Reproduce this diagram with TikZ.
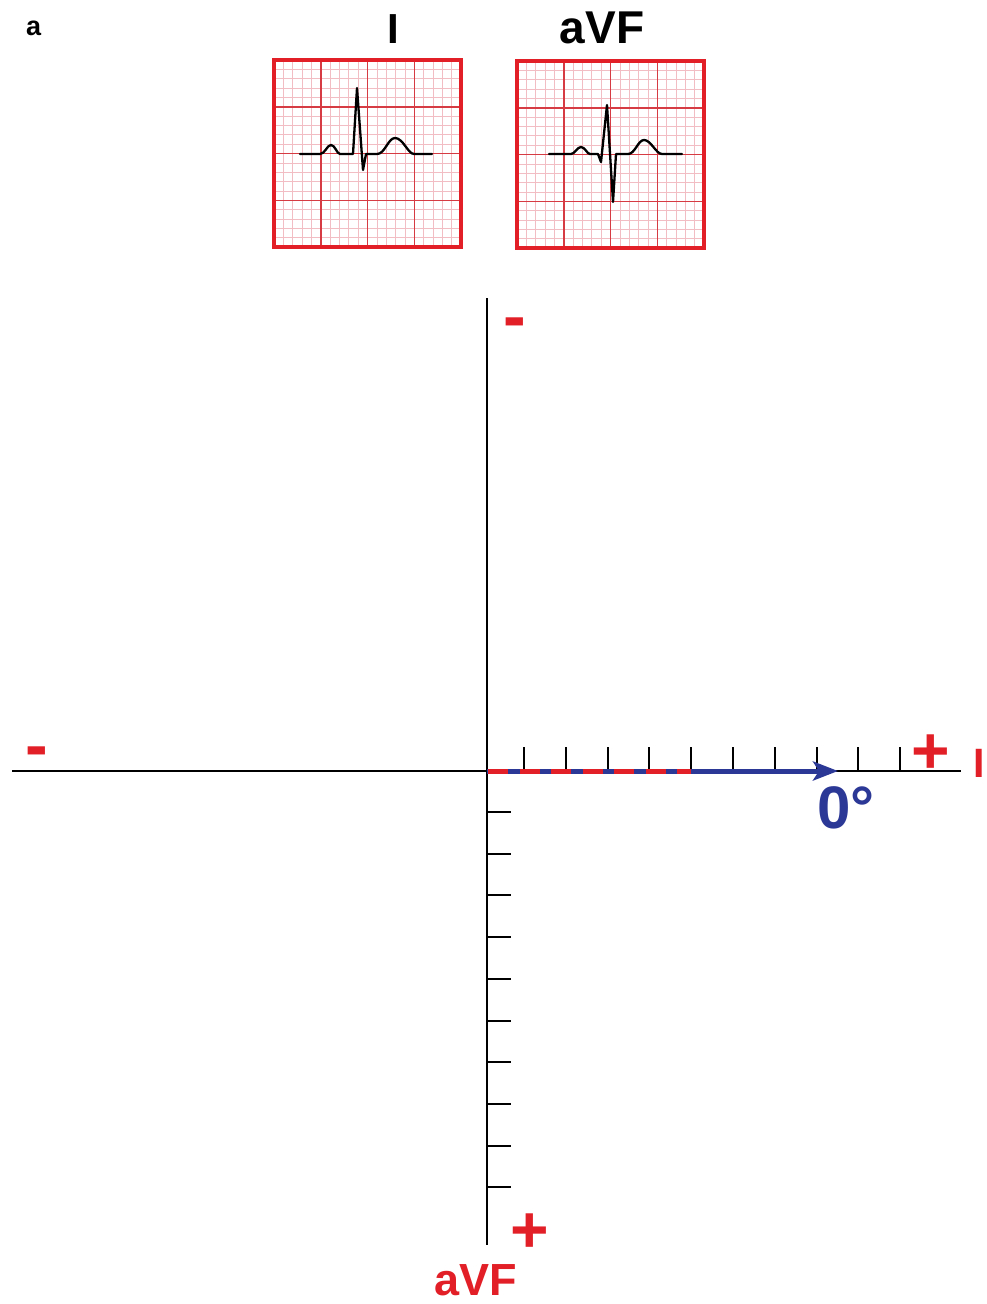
\documentclass[tikz,border=0pt]{standalone}
\usepackage{fontspec}
\setmainfont{Liberation Sans}
\usetikzlibrary{arrows.meta,calc}
\definecolor{ecgred}{RGB}{226,30,38}
\definecolor{vecblue}{RGB}{44,56,150}
\definecolor{minorpink}{RGB}{242,190,196}
\definecolor{majorred}{RGB}{214,58,66}
\tikzset{
  lbl/.style={inner sep=0pt, anchor=base, font=\bfseries},
  axisline/.style={line width=2.2pt, black},
  tick/.style={line width=2pt, black},
  trace/.style={line width=2.3pt, black, line join=round, line cap=round},
}
\newcommand{\ecgbox}[2]{% #1 = left x, #2 = top y
  \foreach \k in {1,...,19}{
    \draw[minorpink, line width=0.7pt] ({#1+\k*9.35},{#2}) -- ({#1+\k*9.35},{#2+187});
    \draw[minorpink, line width=0.7pt] ({#1},{#2+\k*9.35}) -- ({#1+187},{#2+\k*9.35});
  }
  \foreach \k in {1,2,3}{
    \draw[majorred, line width=1.5pt] ({#1+\k*46.75},{#2}) -- ({#1+\k*46.75},{#2+187});
    \draw[majorred, line width=1.5pt] ({#1},{#2+\k*46.75}) -- ({#1+187},{#2+\k*46.75});
  }
  \draw[ecgred, line width=4pt] (#1,#2) rectangle ({#1+187},{#2+187});
}
\begin{document}
\begin{tikzpicture}[x=1pt,y=-1pt]
\useasboundingbox (0,0) rectangle (987,1304);
\fill[white] (0,0) rectangle (987,1304);

% panel label
\node[lbl, anchor=base west, font=\bfseries\fontsize{27}{27}\selectfont] (panel) at (26,35) {a};

% ECG strips
\ecgbox{274}{60}
\ecgbox{517}{61}
\node[lbl, font=\bfseries\fontsize{42}{42}\selectfont] (titleI) at (393,43) {I};
\node[lbl, font=\bfseries\fontsize{46}{46}\selectfont] (titleaVF) at (602,43) {aVF};

\draw[trace] (300,154) -- (320,154) .. controls (325,154) and (327,145) .. (331,145)
  .. controls (335,145) and (337,154) .. (340,154) -- (353,154) -- (357,88) -- (363,170)
  -- (366,154) -- (377,154) .. controls (385,154) and (388,138) .. (395,138)
  .. controls (403,138) and (408,154) .. (414,154) -- (432,154);
\draw[trace] (549,154) -- (571,154) .. controls (575,154) and (577,147) .. (581,147)
  .. controls (585,147) and (587,154) .. (590,154) -- (598,154) -- (601,162) -- (607,105)
  -- (613,202) -- (616,154) -- (628,154) .. controls (635,154) and (638,140) .. (644,140)
  .. controls (651,140) and (656,154) .. (662,154) -- (682,154);

% axes
\coordinate (O) at (487,771);
\coordinate (Left) at (12,771);
\coordinate (Right) at (961,771);
\coordinate (Top) at (487,298);
\coordinate (Bottom) at (487,1245);
\draw[axisline] (Left) -- (Right);
\draw[axisline] (Top) -- (Bottom);

% ticks
\foreach \k in {0,...,9}{
  \draw[tick] ({524+\k*41.8},771) -- ({524+\k*41.8},747);
  \draw[tick] (487,{812+\k*41.7}) -- (511,{812+\k*41.7});
}

% vector
\coordinate (Tip) at (838,771);
\coordinate (DashStart) at (488,771);
\coordinate (DashEnd) at (691,771);
\draw[vecblue, line width=5pt, -{Stealth[length=25pt, width=19pt, inset=6pt]}] (O) -- (Tip);
\draw[ecgred, line width=5pt, dash pattern=on 20pt off 11.5pt] (DashStart) -- (DashEnd);
\node[lbl, anchor=base west, text=vecblue, font=\bfseries\fontsize{60}{60}\selectfont] (deg) at (817,828) {0°};

% pole signs and lead names
\node[lbl, text=ecgred, font=\bfseries\fontsize{68}{68}\selectfont] (topminus) at (515,339) {-};
\node[lbl, text=ecgred, font=\bfseries\fontsize{68}{68}\selectfont] (leftminus) at (36.5,768) {-};
\node[lbl, text=ecgred, font=\bfseries\fontsize{66}{66}\selectfont] (rightplus) at (931,773) {+};
\node[lbl, text=ecgred, font=\bfseries\fontsize{41}{41}\selectfont] (leadI) at (979,777) {I};
\node[lbl, text=ecgred, font=\bfseries\fontsize{66}{66}\selectfont] (bottomplus) at (530,1252) {+};
\node[lbl, text=ecgred, font=\bfseries\fontsize{45}{45}\selectfont] (leadaVF) at (476,1295) {aVF};
\end{tikzpicture}
\end{document}
